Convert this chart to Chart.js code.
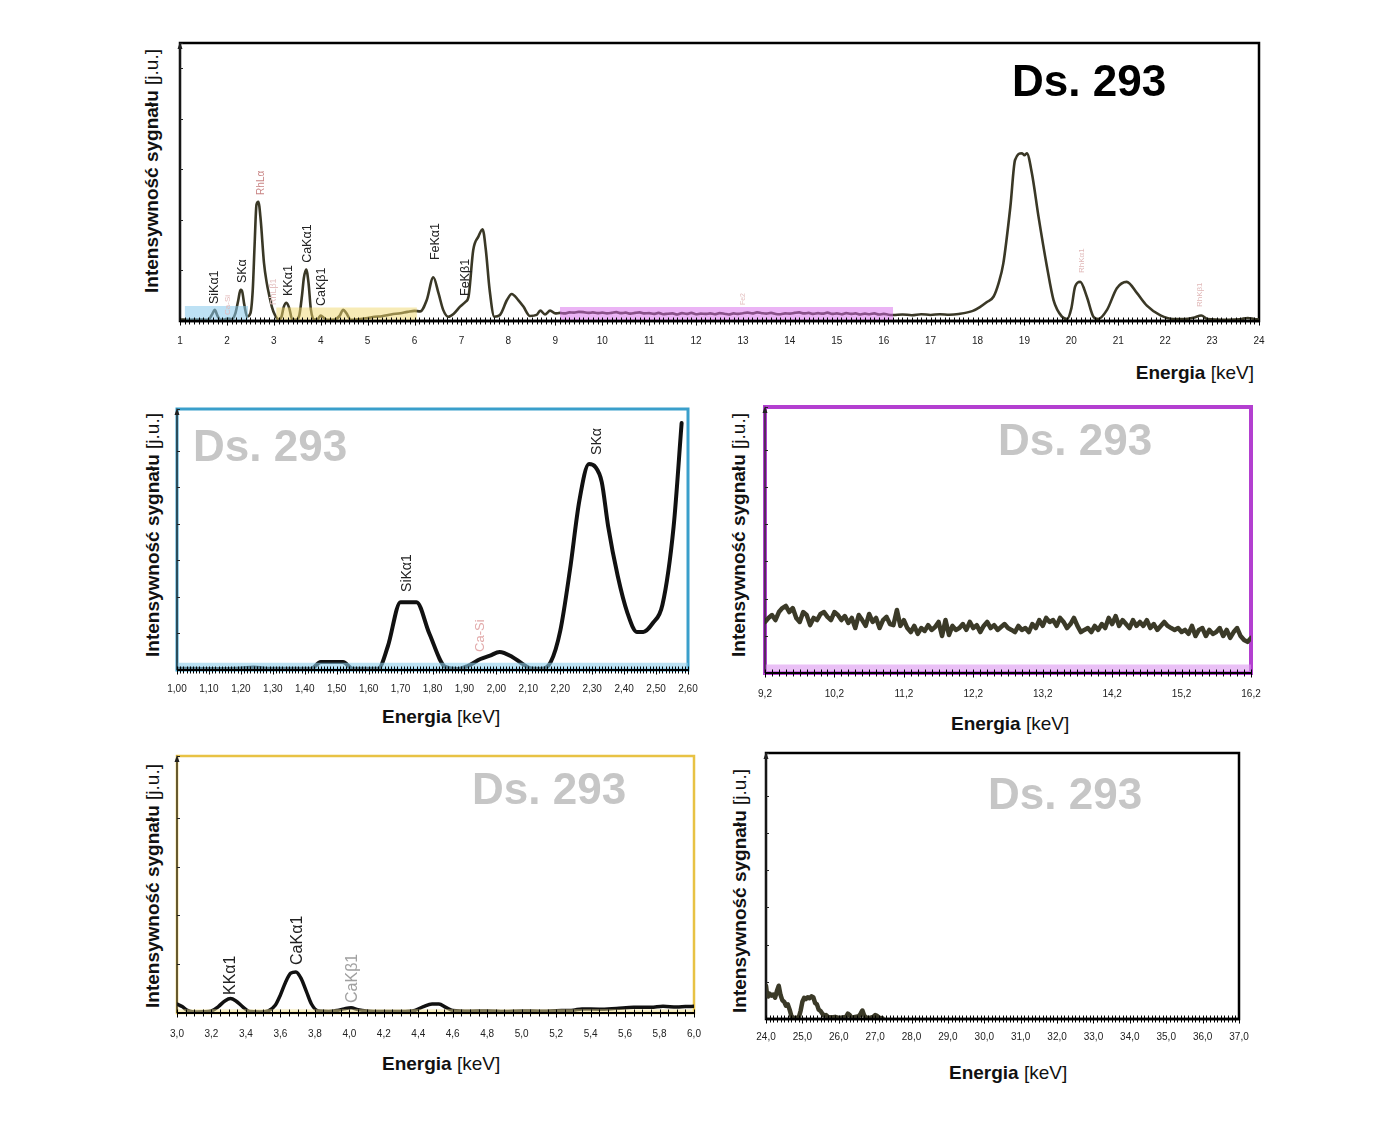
<!DOCTYPE html>
<html><head><meta charset="utf-8">
<script src="https://cdn.jsdelivr.net/npm/chart.js@4.4.1/dist/chart.umd.min.js"></script>
<style>
html,body{margin:0;padding:0;background:#fff;}
#root{position:relative;width:1400px;height:1143px;overflow:hidden;background:#fff;font-family:"Liberation Sans",Arial,sans-serif;}
.box{position:absolute;}
.ytitle{position:absolute;width:300px;height:22px;white-space:nowrap;text-align:center;font-size:19px;line-height:22px;color:#111;transform:rotate(-90deg);}
.xtitle{position:absolute;white-space:nowrap;font-size:19px;line-height:22px;color:#111;}
.ds{position:absolute;white-space:nowrap;font-weight:bold;font-size:44px;line-height:44px;}
b{font-weight:bold;}
</style>
</head><body>
<div id="root">
  <div class="box" id="bMain"><canvas id="cMain"></canvas></div>
  <div class="box" id="bBlue"><canvas id="cBlue"></canvas></div>
  <div class="box" id="bPurple"><canvas id="cPurple"></canvas></div>
  <div class="box" id="bYellow"><canvas id="cYellow"></canvas></div>
  <div class="box" id="bBlack"><canvas id="cBlack"></canvas></div>

  <div class="ytitle" style="left:2px;top:160px;"><b>Intensywność sygnału</b> [j.u.]</div>
  <div class="ytitle" style="left:3px;top:524px;"><b>Intensywność sygnału</b> [j.u.]</div>
  <div class="ytitle" style="left:589px;top:524px;"><b>Intensywność sygnału</b> [j.u.]</div>
  <div class="ytitle" style="left:3px;top:875px;"><b>Intensywność sygnału</b> [j.u.]</div>
  <div class="ytitle" style="left:590px;top:880px;"><b>Intensywność sygnału</b> [j.u.]</div>

  <div class="xtitle" style="right:146px;top:362px;"><b>Energia</b> [keV]</div>
  <div class="xtitle" style="left:382px;top:706px;"><b>Energia</b> [keV]</div>
  <div class="xtitle" style="left:951px;top:713px;"><b>Energia</b> [keV]</div>
  <div class="xtitle" style="left:382px;top:1053px;"><b>Energia</b> [keV]</div>
  <div class="xtitle" style="left:949px;top:1062px;"><b>Energia</b> [keV]</div>

  <div class="ds" style="left:1012px;top:59px;color:#000;">Ds. 293</div>
  <div class="ds" style="left:193px;top:424px;color:#c6c6c6;">Ds. 293</div>
  <div class="ds" style="left:998px;top:418px;color:#c6c6c6;">Ds. 293</div>
  <div class="ds" style="left:472px;top:767px;color:#c6c6c6;">Ds. 293</div>
  <div class="ds" style="left:988px;top:772px;color:#c6c6c6;">Ds. 293</div>
</div>
<script>
// ---------------- DATA ----------------
// Main spectrum 1-24 keV: [energy keV, intensity a.u.]
const mainSpectrum = [
 [1.00,0.6],[1.2,0.5],[1.4,0.6],[1.55,0.5],[1.62,0.8],[1.68,2.5],[1.74,4.4],[1.8,2.0],[1.86,0.5],[1.95,0.6],
 [2.02,1.0],[2.1,0.7],[2.18,3.0],[2.24,8],[2.29,12.3],[2.32,12],[2.37,6.5],[2.43,1.8],[2.5,3.0],[2.55,12],
 [2.59,30],[2.63,46],[2.67,47.2],[2.72,40],[2.79,23],[2.85,15],[2.9,10.3],[2.96,5.5],[3.02,2.5],[3.1,0.7],
 [3.16,1.5],[3.21,5.5],[3.27,7.2],[3.33,5],[3.39,0.7],[3.47,0.5],[3.54,2],[3.6,10],[3.64,17],[3.69,20.4],
 [3.74,15],[3.79,4.5],[3.86,0.6],[3.94,0.8],[4.0,2.2],[4.07,1.2],[4.14,0.5],[4.3,0.6],[4.4,2.0],[4.48,4.4],
 [4.55,3.0],[4.64,0.5],[4.8,0.7],[5.0,1.2],[5.15,1.7],[5.3,1.9],[5.5,2.6],[5.7,3.1],[5.85,3.6],[6.0,4.0],
 [6.12,3.8],[6.26,8.3],[6.4,17.3],[6.51,11],[6.61,4.4],[6.72,1.7],[6.83,2.8],[6.97,5.7],[7.08,7.5],[7.15,9.6],
 [7.25,28],[7.36,33.4],[7.45,36.3],[7.52,28],[7.6,12.3],[7.7,1.7],[7.82,2.4],[7.97,8.3],[8.07,10.7],[8.21,8.3],
 [8.32,5.7],[8.46,2.0],[8.6,2.4],[8.68,4.1],[8.78,2.6],[8.89,4.1],[9.0,3.0],
 [9.1,3.2],[9.2,3.0],[9.3,3.4],[9.4,3.3],[9.5,3.6],[9.6,3.5],[9.7,3.2],[9.8,3.4],[9.9,3.1],[10.0,3.3],
 [10.1,3.0],[10.2,3.2],[10.3,3.5],[10.4,3.1],[10.5,3.3],[10.6,2.9],[10.7,3.2],[10.8,3.4],[10.9,3.0],[11.0,3.1],
 [11.1,2.8],[11.2,3.2],[11.3,2.7],[11.4,2.9],[11.5,3.0],[11.6,2.6],[11.7,3.1],[11.8,2.8],[11.9,3.2],[12.0,2.7],
 [12.1,2.9],[12.2,2.8],[12.3,3.0],[12.4,2.7],[12.5,3.1],[12.6,2.9],[12.7,2.6],[12.8,3.0],[12.9,2.8],[13.0,3.1],
 [13.1,3.3],[13.2,3.0],[13.3,3.4],[13.4,3.1],[13.5,2.9],[13.6,3.2],[13.7,2.8],[13.8,2.7],[13.9,3.0],[14.0,2.9],
 [14.1,3.2],[14.2,3.4],[14.3,3.0],[14.4,3.2],[14.5,2.8],[14.6,3.1],[14.7,2.9],[14.8,3.3],[14.9,2.8],[15.0,3.0],
 [15.1,2.7],[15.2,3.1],[15.3,2.8],[15.4,3.0],[15.5,2.6],[15.6,2.9],[15.7,2.7],[15.8,3.0],[15.9,2.6],[16.0,2.8],
 [16.1,2.5],[16.2,2.4],[16.4,2.6],[16.6,2.3],[16.8,2.7],[17.0,2.4],[17.2,2.7],[17.4,2.5],[17.6,2.8],[17.9,4.0],
 [18.05,5.5],[18.2,7.5],[18.34,9.6],[18.45,15],[18.55,22.8],[18.7,45.2],[18.8,63.7],[18.95,66.4],[19.0,65.6],[19.05,66.4],
 [19.16,58.4],[19.3,41.3],[19.48,21.5],[19.62,8.3],[19.8,1.7],[19.91,0.8],[20.0,5],[20.08,13.6],[20.19,15.5],[20.33,9.6],
 [20.47,1.7],[20.57,0.8],[20.76,4.4],[20.97,13],[21.18,15.5],[21.4,11],[21.61,6.1],[21.9,2.2],[22.17,0.8],[22.4,0.8],
 [22.6,1.3],[22.77,2.2],[22.9,0.8],[23.33,0.5],[23.6,0.7],[23.76,1.2],[23.9,0.8],[24.0,0.6]
];
// Highlighted regions in main chart: [from keV, to keV, height]
const mainBlueRegion = [1.1, 2.45, 5.9];
const mainYellowRegion = [3.05, 6.05, 5.3];
const mainPurpleRegion = [9.1, 16.2, 5.5];
const mainPeakLabels = [
 {e:1.73, v:6.7,  t:'SiKα1', c:'#222', s:12.5},
 {e:2.02, v:2.4,  t:'Ca-Si', c:'#e2b8b8', s:8},
 {e:2.34, v:15,   t:'SKα',   c:'#222', s:12.5},
 {e:2.73, v:49.9, t:'RhLα',  c:'#c98585', s:10},
 {e:3.0,  v:6.3,  t:'RhLβ1', c:'#e4c0c0', s:9},
 {e:3.32, v:9.9,  t:'KKα1',  c:'#222', s:12.5},
 {e:3.72, v:23,   t:'CaKα1', c:'#222', s:12.5},
 {e:4.02, v:5.9,  t:'CaKβ1', c:'#222', s:12.5},
 {e:6.44, v:24.1, t:'FeKα1', c:'#222', s:12.5},
 {e:7.08, v:9.9,  t:'FeKβ1', c:'#222', s:12.5},
 {e:13.0, v:6.3,  t:'Fe2',   c:'#e4c0c0', s:7},
 {e:20.22,v:19,   t:'RhKα1', c:'#e0b8b8', s:8},
 {e:22.73,v:5.5,  t:'RhKβ1', c:'#e0b8b8', s:8}
];

// Blue detail 1.00-2.60 keV
const blueSpectrum = [
 [1.00,0.5],[1.1,0.4],[1.2,0.6],[1.24,1.0],[1.28,0.5],[1.42,0.5],[1.45,3.1],[1.52,3.1],[1.55,0.5],[1.63,0.5],
 [1.66,9],[1.70,26],[1.75,26],[1.79,14],[1.84,1.2],[1.88,0.4],[1.91,1.5],[1.95,4.2],[1.98,5.5],[2.01,6.9],
 [2.05,5],[2.08,2.5],[2.11,0.6],[2.14,0.5],[2.17,3],[2.20,15],[2.23,38],[2.26,65],[2.29,78.9],[2.31,77.8],
 [2.33,72],[2.35,55],[2.38,36],[2.41,22],[2.44,14.6],[2.46,14.6],[2.49,18],[2.52,25],[2.555,55],[2.58,94.6]
];
const blueBand = [1.0, 2.6, 2.8];
const bluePeakLabels = [
 {e:1.72, v:29.9, t:'SiKα1', c:'#222', s:14},
 {e:1.95, v:6.9,  t:'Ca-Si', c:'#e2aaaa', s:13},
 {e:2.315,v:82.4, t:'SKα',   c:'#222', s:14}
];

// Purple detail 9.2-16.2 keV, sampled every 0.05 keV
const purpleStart = 9.2, purpleStep = 0.05;
const purpleValues = [
 19.2,20.7,21.8,19.9,22.9,24.4,25.2,22.9,24.4,20.7,
 19.2,22.9,21.8,18.0,20.7,19.9,22.2,22.9,21.1,19.9,
 22.9,21.8,19.9,21.4,18.8,20.7,16.9,21.8,19.9,17.7,
 22.2,19.2,20.7,16.9,19.9,21.1,18.4,18.0,23.7,17.7,
 19.9,16.9,15.4,17.7,14.7,16.9,15.8,18.0,16.2,17.3,
 19.2,13.9,19.9,14.3,17.7,16.2,16.9,18.4,16.2,19.2,
 16.9,18.0,15.4,17.7,19.2,16.9,18.0,16.2,17.3,18.4,
 16.9,16.2,15.4,17.7,16.2,16.9,15.4,18.4,16.9,19.9,
 17.7,20.7,19.2,19.9,17.7,20.7,19.2,16.9,18.4,20.7,
 17.7,15.4,16.2,16.9,15.4,17.7,16.2,18.4,16.9,20.7,
 18.4,21.4,17.7,19.9,18.4,16.9,19.9,17.7,19.2,17.7,
 19.9,16.9,18.4,16.2,17.7,19.2,17.7,16.9,16.2,16.9,
 15.4,16.2,14.7,17.7,13.9,16.2,16.9,13.9,16.2,14.7,
 15.4,16.9,13.9,16.2,13.2,15.4,16.9,13.9,12.4,11.7,
 13.2
];
const purpleBand = [9.2, 16.2, 3.2];

// Yellow detail 3.0-6.0 keV
const yellowSpectrum = [
 [3.00,3.5],[3.03,2.5],[3.06,1],[3.10,0.4],[3.15,0.5],[3.20,0.8],[3.24,2.5],[3.28,4.8],[3.31,5.6],[3.34,4.8],
 [3.38,2.5],[3.42,0.6],[3.48,0.4],[3.53,0.8],[3.57,3],[3.60,7],[3.63,12],[3.66,15.5],[3.69,16],[3.72,13.5],
 [3.75,8.5],[3.78,3.5],[3.82,0.8],[3.88,0.6],[3.93,1],[3.97,1.6],[4.01,2],[4.05,1.3],[4.10,0.8],[4.20,0.6],
 [4.30,0.6],[4.38,1],[4.43,2.5],[4.48,3.5],[4.52,3.5],[4.56,2.2],[4.60,1],[4.70,0.7],[4.80,0.8],[4.90,0.6],
 [5.00,0.8],[5.10,0.7],[5.20,0.9],[5.30,1.1],[5.35,1.6],[5.45,1.5],[5.55,1.8],[5.65,2.2],[5.75,2.2],[5.82,2.6],
 [5.90,2.3],[5.95,2.5],[6.00,2.6]
];
const yellowBand = [3.0, 6.0, 1.5];
const yellowPeakLabels = [
 {e:3.31, v:7,    t:'KKα1',  c:'#222', s:16},
 {e:3.70, v:18.7, t:'CaKα1', c:'#222', s:16},
 {e:4.02, v:3.9,  t:'CaKβ1', c:'#a0a0a0', s:16}
];

// Black detail 24.0-37.0 keV
const blackSpectrum = [
 [24.00,12.5],[24.03,9],[24.06,8.5],[24.10,9.5],[24.15,8.8],[24.20,9.2],[24.25,8],[24.30,10.5],[24.35,12.5],[24.40,9],
 [24.45,7],[24.50,6.5],[24.55,5],[24.60,5.5],[24.65,3.5],[24.70,1],[24.75,0.5],[24.80,0.3],[24.85,0.5],[24.90,0.5],
 [24.95,3],[25.00,6.5],[25.05,8],[25.10,7.5],[25.15,8.2],[25.20,7.8],[25.25,8.5],[25.30,8.2],[25.35,6],[25.40,5.5],
 [25.45,3.5],[25.50,3],[25.55,2],[25.60,1.2],[25.65,1.5],[25.70,0.8],[25.80,0.6],[25.90,0.8],[26.00,0.4],[26.10,0.6],
 [26.20,0.8],[26.25,2],[26.30,1.5],[26.35,0.5],[26.45,0.8],[26.55,1],[26.60,2],[26.65,3.2],[26.70,1.2],[26.75,0.6],
 [26.85,0.4],[26.95,0.8],[27.00,1.5],[27.05,1.2],[27.10,0.5],[27.20,0.3]
];

// ---------------- RENDERING ----------------
const FONT = '"Liberation Sans", Arial, sans-serif';
const toXY = arr => arr.map(p => ({x:p[0], y:p[1]}));
const band = b => [{x:b[0], y:b[2]}, {x:b[1], y:b[2]}];

const decor = {
  id: 'decor',
  beforeDatasetsDraw(chart, args, o) {
    const {ctx, chartArea:a} = chart;
    ctx.save();
    ctx.strokeStyle = o.frameColor; ctx.lineWidth = o.frameWidth;
    ctx.strokeRect(a.left, a.top, a.right - a.left, a.bottom - a.top);
    ctx.restore();
  },
  afterDatasetsDraw(chart, args, o) {
    const {ctx, chartArea:a, scales:{x, y}} = chart;
    ctx.save();
    // y axis
    ctx.strokeStyle = '#222'; ctx.lineWidth = 1.3;
    ctx.beginPath(); ctx.moveTo(a.left, a.bottom); ctx.lineTo(a.left, a.top + 3); ctx.stroke();
    ctx.fillStyle = '#222';
    ctx.beginPath(); ctx.moveTo(a.left, a.top - 1); ctx.lineTo(a.left - 2.5, a.top + 6); ctx.lineTo(a.left + 2.5, a.top + 6); ctx.closePath(); ctx.fill();
    ctx.lineWidth = 1;
    y.ticks.forEach(t => {
      if (t.value === 0) return;
      const py = Math.round(y.getPixelForValue(t.value)) + 0.5;
      ctx.beginPath(); ctx.moveTo(a.left, py); ctx.lineTo(a.left + 3, py); ctx.stroke();
    });
    // x axis
    ctx.strokeStyle = '#000'; ctx.lineWidth = o.axisWidth;
    ctx.beginPath(); ctx.moveTo(a.left, a.bottom); ctx.lineTo(a.right, a.bottom); ctx.stroke();
    ctx.lineWidth = 1;
    x.ticks.forEach(t => {
      const px = Math.round(x.getPixelForValue(t.value)) + 0.5;
      const major = t.label !== '' && t.label != null;
      ctx.beginPath(); ctx.moveTo(px, a.bottom - 3.5); ctx.lineTo(px, a.bottom + (major ? 4.5 : 3.5)); ctx.stroke();
    });
    // peak labels
    (o.labels || []).forEach(l => {
      const px = x.getPixelForValue(l.e), py = y.getPixelForValue(l.v);
      ctx.save(); ctx.translate(px, py); ctx.rotate(-Math.PI / 2);
      ctx.font = l.s + 'px ' + FONT; ctx.fillStyle = l.c;
      ctx.textAlign = 'left'; ctx.textBaseline = 'middle';
      ctx.fillText(l.t, 0, 0);
      ctx.restore();
    });
    ctx.restore();
  }
};

function place(id, area) {
  const el = document.getElementById(id);
  el.style.left = (area.l - 10) + 'px';
  el.style.top = (area.t - 8) + 'px';
  el.style.width = (area.r - area.l + 20) + 'px';
  el.style.height = (area.b - area.t + 8 + 30) + 'px';
}

function makeChart(canvasId, cfg) {
  return new Chart(document.getElementById(canvasId), {
    type: 'line',
    data: { datasets: cfg.datasets },
    options: {
      responsive: true, maintainAspectRatio: false, animation: false,
      layout: { padding: { left: 10, right: 10, top: 8, bottom: 0 } },
      plugins: { legend: {display:false}, tooltip: {enabled:false}, title:{display:false}, decor: cfg.decor },
      elements: { point: { radius: 0 } },
      scales: {
        x: {
          type: 'linear', min: cfg.xmin, max: cfg.xmax,
          grid: { display:false, drawTicks:false }, border: { display:false },
          afterFit: s => { s.height = 30; s.paddingLeft = 0; s.paddingRight = 0; },
          ticks: { stepSize: cfg.xstep, autoSkip:false, maxRotation:0, minRotation:0, padding: cfg.labelPad,
                   font: { family: 'Liberation Sans', size: 10 }, color: '#222',
                   callback: v => cfg.fmt(v) }
        },
        y: {
          type: 'linear', min: 0, max: cfg.ymax,
          grid: { display:false, drawTicks:false }, border: { display:false },
          afterFit: s => { s.width = 0; s.paddingTop = 0; s.paddingBottom = 0; },
          ticks: { display:false, stepSize: cfg.ystep }
        }
      }
    },
    plugins: [decor]
  });
}

const comma = (v, d) => v.toFixed(d).replace('.', ',');
const lineDs = (data, color, w, smooth) => ({
  data, borderColor: color, borderWidth: w, fill: false, pointRadius: 0,
  cubicInterpolationMode: smooth ? 'monotone' : 'default', tension: 0, borderJoinStyle: 'round', borderCapStyle: 'round'
});
const bandDs = (b, color) => ({ data: band(b), borderWidth: 0, backgroundColor: color, fill: 'origin', pointRadius: 0 });

// Main
const aMain = {l:180, r:1259, t:43, b:321};
place('bMain', aMain);
makeChart('cMain', {
  xmin: 1, xmax: 24, xstep: 0.1, ymax: 110, ystep: 20, labelPad: 14,
  fmt: v => Math.abs(v - Math.round(v)) < 1e-6 ? String(Math.round(v)) : '',
  datasets: [
    bandDs(mainBlueRegion, 'rgba(135,200,235,0.55)'),
    bandDs(mainYellowRegion, 'rgba(240,215,110,0.5)'),
    bandDs(mainPurpleRegion, 'rgba(215,105,235,0.5)'),
    lineDs(toXY(mainSpectrum), '#3a3826', 2.6, true)
  ],
  decor: { frameColor:'#000', frameWidth:2.5, axisWidth:2.5, labels: mainPeakLabels }
});

// Blue
const aBlue = {l:177, r:688, t:409, b:670};
place('bBlue', aBlue);
makeChart('cBlue', {
  xmin: 1.0, xmax: 2.6, xstep: 0.01, ymax: 100, ystep: 14, labelPad: 13,
  fmt: v => Math.round(v * 100) % 10 === 0 ? comma(v, 2) : '',
  datasets: [
    bandDs(blueBand, 'rgba(140,205,235,0.6)'),
    lineDs(toXY(blueSpectrum), '#111', 4, true)
  ],
  decor: { frameColor:'#3a9fcb', frameWidth:3, axisWidth:2, labels: bluePeakLabels }
});

// Purple
const aPurple = {l:765, r:1251, t:407, b:673};
place('bPurple', aPurple);
makeChart('cPurple', {
  xmin: 9.2, xmax: 16.2, xstep: 0.1, ymax: 100, ystep: 14, labelPad: 15,
  fmt: v => { const d = v - 9.2; return Math.abs(d - Math.round(d)) < 1e-6 ? comma(v, 1) : ''; },
  datasets: [
    bandDs(purpleBand, 'rgba(220,150,240,0.6)'),
    lineDs(purpleValues.map((val, i) => ({x: purpleStart + i * purpleStep, y: val})), '#3b3a28', 4.5, false)
  ],
  decor: { frameColor:'#b33fd0', frameWidth:4, axisWidth:2, labels: [] }
});

// Yellow
const aYellow = {l:177, r:694, t:756, b:1013};
place('bYellow', aYellow);
makeChart('cYellow', {
  xmin: 3.0, xmax: 6.0, xstep: 0.05, ymax: 100, ystep: 19, labelPad: 15,
  fmt: v => Math.round(v * 100) % 20 === 0 ? comma(v, 1) : '',
  datasets: [
    bandDs(yellowBand, 'rgba(240,225,150,0.5)'),
    lineDs(toXY(yellowSpectrum), '#111', 3.5, true)
  ],
  decor: { frameColor:'#e8c244', frameWidth:2.5, axisWidth:2, labels: yellowPeakLabels }
});

// Black
const aBlack = {l:766, r:1239, t:753, b:1019};
place('bBlack', aBlack);
makeChart('cBlack', {
  xmin: 24, xmax: 37, xstep: 0.1, ymax: 100, ystep: 14, labelPad: 12,
  fmt: v => Math.abs(v - Math.round(v)) < 1e-6 ? comma(v, 1) : '',
  datasets: [
    lineDs(toXY(blackSpectrum), '#3b3a28', 4.5, false)
  ],
  decor: { frameColor:'#000', frameWidth:2.5, axisWidth:2.5, labels: [] }
});
</script>
</body></html>
